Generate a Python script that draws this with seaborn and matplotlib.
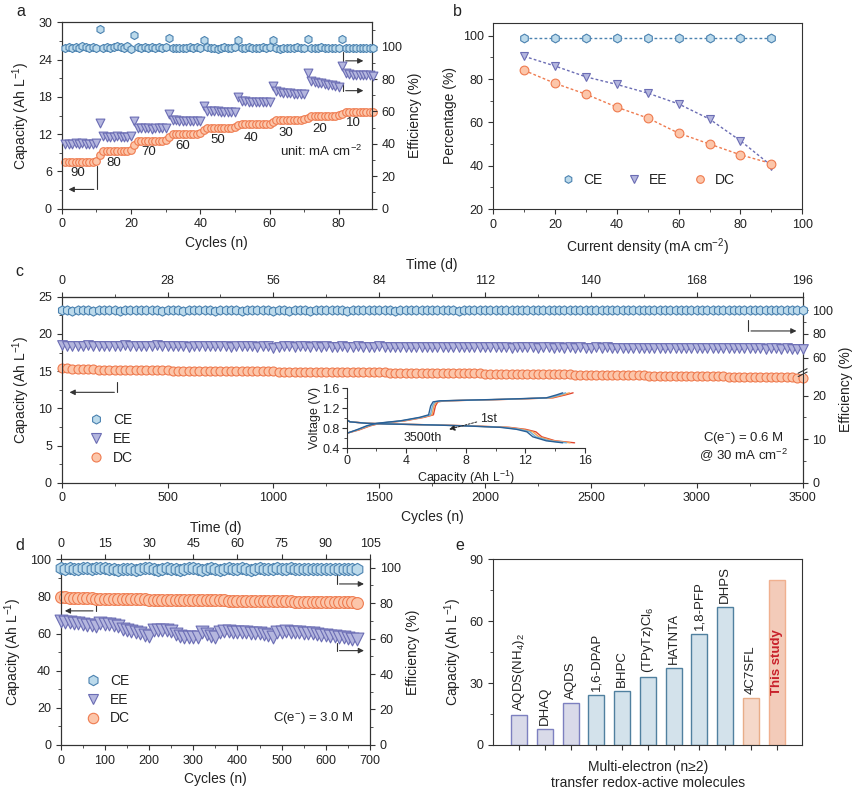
import numpy as np
import matplotlib
matplotlib.use("Agg")
import matplotlib.pyplot as plt
import seaborn as sns
from matplotlib.lines import Line2D
from matplotlib.ticker import MultipleLocator, FixedLocator

# ---------------- data ----------------
# a: rate test, 10 cycles per current density (90 -> 10 mA cm-2)
ce_a = [99.2, 99.6, 99.0, 99.8, 99.4, 100.2, 99.5, 99.1, 99.7, 99.3,
        111.0, 99.2, 99.6, 99.3, 99.5, 100.3, 99.7, 98.9, 100.1, 98.7,
        107.0, 99.5, 99.2, 99.9, 99.4, 99.6, 99.1, 99.5, 99.3, 99.5,
        105.4, 99.4, 99.3, 99.1, 98.9, 99.4, 99.6, 99.2, 99.5, 99.4,
        104.3, 99.5, 99.0, 99.3, 98.8, 99.4, 99.5, 99.0, 99.3, 99.5,
        104.3, 98.9, 99.4, 99.5, 99.1, 98.9, 99.3, 99.6, 99.4, 99.5,
        104.3, 99.2, 98.8, 99.4, 99.2, 98.9, 99.3, 99.5, 99.4, 99.4,
        105.0, 99.4, 99.4, 99.3, 99.5, 99.4, 99.4, 99.2, 99.4, 99.4,
        105.0, 99.4, 99.4, 99.4, 99.3, 99.4, 99.4, 99.4, 99.4, 99.4]
ee_a = [40.2, 40.0, 39.8, 40.3, 40.1, 40.4, 39.9, 40.2, 39.8, 40.6,
        53.0, 44.6, 44.4, 44.5, 44.3, 44.6, 44.4, 44.2, 44.5, 44.6,
        54.2, 49.6, 49.5, 49.7, 49.6, 49.4, 49.6, 49.5, 49.6, 49.5,
        58.4, 54.8, 54.5, 54.3, 54.2, 54.2, 54.0, 54.3, 54.1, 54.4,
        63.2, 60.5, 60.2, 60.0, 60.0, 59.8, 59.8, 59.7, 59.6, 59.6,
        69.0, 66.7, 66.3, 66.0, 66.0, 66.0, 65.9, 65.8, 65.8, 65.8,
        76.0, 72.5, 72.0, 71.6, 71.4, 71.2, 71.0, 71.0, 71.0, 71.0,
        83.6, 79.0, 78.3, 77.8, 77.4, 77.0, 76.6, 76.2, 75.8, 75.0,
        88.0, 83.5, 83.0, 82.7, 82.5, 82.5, 82.4, 82.3, 82.2, 82.0]
dc_a = [7.5, 7.5, 7.5, 7.5, 7.5, 7.5, 7.5, 7.5, 7.5, 7.6,
        8.6, 9.3, 9.3, 9.3, 9.3, 9.3, 9.3, 9.3, 9.3, 9.4,
        10.2, 10.9, 10.9, 10.9, 10.9, 10.9, 10.9, 10.9, 10.9, 11.0,
        11.6, 12.1, 12.1, 12.1, 12.1, 12.1, 12.1, 12.1, 12.1, 12.2,
        12.6, 13.0, 13.0, 13.0, 13.0, 13.0, 13.0, 13.0, 13.0, 13.1,
        13.4, 13.6, 13.6, 13.6, 13.6, 13.6, 13.6, 13.6, 13.6, 13.7,
        14.0, 14.3, 14.3, 14.3, 14.3, 14.3, 14.3, 14.3, 14.3, 14.4,
        14.6, 15.0, 15.0, 15.0, 15.0, 15.0, 15.0, 15.0, 15.0, 15.1,
        15.3, 15.6, 15.6, 15.6, 15.6, 15.6, 15.6, 15.6, 15.6, 15.6]
rate_labels = ["90", "80", "70", "60", "50", "40", "30", "20", "10"]
rate_label_x = [4.7, 14.9, 25.2, 34.9, 45.0, 54.8, 64.6, 74.4, 84.3]
rate_label_y = [5.75, 7.3, 9.2, 10.1, 11.1, 11.4, 12.2, 12.8, 13.8]

# b: efficiencies vs current density
current_b = [10, 20, 30, 40, 50, 60, 70, 80, 90]
ce_b = [99, 99, 99, 99, 99, 99, 99, 99, 99]
ee_b = [90.5, 86, 81, 77.5, 73.5, 68.5, 61.5, 51.5, 40]
dc_b = [84, 78, 73, 67, 62, 55, 50, 45, 41]

# c: long cycling, one marker every 25 cycles (0..3500)
ce_c = [99.8, 99.8, 99.7, 99.8, 99.8, 99.8, 99.7, 99.8, 99.8, 99.8,
        99.8, 99.7, 99.8, 99.8, 99.8, 99.8, 99.8, 99.8, 99.8, 99.3,
        99.8, 99.8, 99.8, 99.7, 99.8, 99.8, 99.8, 99.8, 99.8, 99.4,
        99.8, 99.8, 99.8, 99.8, 99.7, 99.8, 99.8, 99.8, 99.8, 99.8,
        99.2, 99.8, 99.8, 99.3, 99.8, 99.8, 99.8, 99.4, 99.8, 99.8,
        99.8, 99.8, 99.8, 99.8, 99.7, 99.8, 99.8, 99.8, 99.8, 99.8,
        99.8, 99.8, 99.8, 99.2, 99.8, 99.8, 99.8, 99.8, 99.8, 99.8,
        99.8, 99.8, 99.8, 99.8, 99.8, 99.7, 99.8, 99.8, 99.8, 99.8,
        99.8, 99.8, 99.8, 99.8, 99.8, 99.8, 99.8, 99.8, 99.8, 99.8,
        99.8, 99.8, 99.8, 99.8, 99.8, 99.8, 99.8, 99.8, 99.8, 99.8,
        99.8, 99.8, 99.8, 99.8, 99.8, 99.8, 99.8, 99.8, 99.8, 99.8,
        99.8, 99.8, 99.8, 99.8, 99.8, 99.8, 99.8, 99.8, 99.8, 99.8,
        99.8, 99.8, 99.8, 99.8, 99.8, 99.8, 99.8, 99.8, 99.8, 99.8,
        99.8, 99.8, 99.8, 99.8, 99.8, 99.8, 99.8, 99.8, 99.8, 99.8,
        99.8]
ee_c = [70.4, 70.0, 69.8, 70.1, 69.7, 70.3, 69.9, 69.6, 70.0, 69.8,
        70.2, 69.7, 70.3, 69.8, 69.6, 70.1, 69.7, 69.9, 70.4, 69.8,
        69.5, 70.0, 69.7, 69.9, 69.4, 69.8, 70.0, 69.6, 69.8, 69.5,
        69.9, 69.6, 69.4, 69.8, 69.5, 69.7, 69.9, 69.3, 69.6, 69.8,
        68.6, 69.4, 69.7, 69.5, 69.2, 69.6, 69.8, 69.3, 69.5, 69.4,
        69.7, 69.2, 69.4, 69.6, 69.1, 69.3, 69.5, 69.0, 69.4, 69.2,
        69.5, 69.1, 69.3, 69.0, 69.4, 69.2, 68.9, 69.3, 69.1, 69.4,
        69.0, 69.2, 68.9, 69.3, 69.0, 68.8, 69.2, 69.0, 68.9, 69.1,
        68.8, 69.0, 68.7, 69.1, 68.9, 68.6, 69.0, 68.8, 68.7, 68.9,
        68.6, 68.9, 68.7, 68.5, 68.8, 68.6, 68.9, 68.5, 68.7, 68.6,
        68.4, 68.7, 68.5, 68.8, 68.4, 68.6, 68.3, 68.6, 68.5, 68.3,
        68.6, 68.4, 68.2, 68.5, 68.3, 68.1, 68.4, 68.2, 68.5, 68.1,
        68.3, 68.0, 68.2, 68.4, 67.9, 68.1, 68.3, 67.9, 68.2, 68.0,
        67.8, 68.1, 67.9, 67.7, 68.0, 67.8, 67.6, 67.9, 67.7, 67.6,
        67.5]
dc_c = [15.45, 15.38, 15.33, 15.30, 15.27, 15.25, 15.23, 15.21, 15.20, 15.18,
        15.17, 15.16, 15.15, 15.14, 15.13, 15.12, 15.12, 15.11, 15.10, 15.10,
        15.09, 15.08, 15.08, 15.07, 15.06, 15.06, 15.05, 15.04, 15.04, 15.03,
        15.02, 15.02, 15.01, 15.00, 15.00, 14.99, 14.98, 14.98, 14.97, 14.96,
        14.96, 14.95, 14.94, 14.94, 14.93, 14.92, 14.92, 14.91, 14.90, 14.90,
        14.89, 14.88, 14.88, 14.87, 14.86, 14.86, 14.85, 14.84, 14.84, 14.83,
        14.82, 14.82, 14.81, 14.80, 14.80, 14.79, 14.78, 14.78, 14.77, 14.76,
        14.76, 14.75, 14.74, 14.74, 14.73, 14.72, 14.71, 14.70, 14.70, 14.69,
        14.68, 14.67, 14.66, 14.66, 14.65, 14.64, 14.63, 14.62, 14.62, 14.61,
        14.60, 14.59, 14.58, 14.57, 14.57, 14.56, 14.55, 14.54, 14.53, 14.52,
        14.51, 14.50, 14.50, 14.49, 14.48, 14.47, 14.46, 14.45, 14.44, 14.43,
        14.42, 14.41, 14.40, 14.40, 14.39, 14.38, 14.37, 14.36, 14.35, 14.34,
        14.33, 14.32, 14.31, 14.30, 14.29, 14.28, 14.27, 14.26, 14.25, 14.24,
        14.23, 14.22, 14.21, 14.20, 14.19, 14.18, 14.17, 14.16, 14.15, 14.14,
        14.12]

# c inset: charge / discharge curves, 1st -> 3500th
chg_v = [0.70, 0.77, 0.85, 0.90, 0.95, 1.02, 1.07, 1.25, 1.33, 1.35, 1.38, 1.41, 1.47, 1.51]
chg_q = [
    [0, 0.85, 1.58, 2.25, 3.9, 5.2, 5.82, 5.96, 6.12, 6.6, 10.75, 13.85, 14.7, 15.2],
    [0, 0.78, 1.50, 2.16, 3.8, 5.1, 5.72, 5.86, 6.02, 6.5, 10.6, 13.7, 14.5, 14.95],
    [0, 0.72, 1.42, 2.08, 3.7, 5.0, 5.62, 5.76, 5.92, 6.38, 10.45, 13.55, 14.3, 14.7],
    [0, 0.67, 1.34, 2.00, 3.6, 4.9, 5.50, 5.64, 5.80, 6.26, 10.3, 13.4, 14.1, 14.5],
]
dis_v = [0.97, 0.93, 0.90, 0.887, 0.867, 0.847, 0.82, 0.78, 0.73, 0.63, 0.55, 0.51]
dis_q = [
    [0, 0.22, 1.46, 2.90, 6.1, 8.50, 10.9, 12.0, 12.7, 13.1, 14.0, 15.3],
    [0, 0.22, 1.42, 2.84, 6.0, 8.35, 10.7, 11.8, 12.5, 12.9, 13.85, 15.0],
    [0, 0.22, 1.38, 2.77, 5.9, 8.20, 10.5, 11.6, 12.3, 12.7, 13.6, 14.75],
    [0, 0.22, 1.34, 2.70, 5.8, 8.05, 10.3, 11.4, 12.1, 12.5, 13.4, 14.5],
]
curve_colors = ["#e0452f", "#f2a157", "#6fb0d8", "#2a5f95"]

# d: high concentration cycling, one marker every 10 cycles (0..670)
ce_d = [99.5, 99.3, 99.6, 99.4, 99.2, 99.5, 99.6, 99.3, 99.5, 99.7,
        99.8, 99.4, 99.0, 98.6, 99.2, 99.4, 99.0, 98.7, 99.3, 99.5,
        99.7, 99.2, 98.8, 99.3, 99.6, 99.4, 99.0, 98.5, 99.1, 99.5,
        99.7, 99.4, 98.8, 99.2, 99.6, 99.3, 98.9, 99.4, 99.7, 99.3,
        99.0, 99.5, 99.3, 98.8, 99.2, 99.6, 99.3, 99.0, 99.4, 99.6,
        99.4, 99.2, 99.7, 99.4, 99.0, 99.3, 99.2, 99.1, 99.3, 99.2,
        99.0, 99.2, 99.3, 99.1, 99.0, 99.2, 99.1, 99.0]
ee_d = [69.7, 69.5, 69.3, 69.0, 68.7, 68.2, 67.9, 67.6, 67.3, 68.6,
        68.4, 68.1, 67.6, 66.8, 65.6, 65.0, 64.2, 63.6, 63.0, 62.2,
        61.7, 64.8, 65.0, 64.9, 64.6, 64.0, 62.5, 61.2, 60.7, 60.7,
        60.8, 60.7, 63.5, 62.8, 61.5, 60.8, 63.9, 64.0, 64.0, 63.8,
        63.6, 63.6, 63.5, 63.4, 63.2, 63.0, 62.5, 61.8, 60.8, 63.6,
        63.9, 64.0, 63.9, 63.8, 63.5, 63.3, 63.0, 62.9, 62.6, 62.2,
        61.9, 61.6, 61.2, 60.9, 60.6, 60.3, 60.0, 59.8]
dc_d = [79.8, 79.5, 79.3, 79.2, 79.1, 79.0, 78.9, 78.9, 78.8, 78.8,
        78.7, 78.7, 78.6, 78.6, 78.5, 78.5, 78.5, 78.4, 78.4, 78.4,
        78.3, 78.3, 78.3, 78.2, 78.2, 78.2, 78.1, 78.1, 78.1, 78.0,
        78.0, 78.0, 77.9, 77.9, 77.9, 77.8, 77.8, 77.8, 77.7, 77.7,
        77.7, 77.6, 77.6, 77.6, 77.5, 77.5, 77.5, 77.4, 77.4, 77.4,
        77.3, 77.3, 77.3, 77.2, 77.2, 77.2, 77.1, 77.1, 77.1, 77.0,
        77.0, 77.0, 76.9, 76.9, 76.9, 76.8, 76.8, 76.6]

# e: capacity of multi-electron molecules
molecules = ["AQDS(NH$_4$)$_2$", "DHAQ", "AQDS", "1,6-DPAP", "BHPC", "(TPyTz)Cl$_6$",
             "HATNTA", "1,8-PFP", "DHPS", "4C7SFL", "This study"]
capacity_e = [14.6, 7.7, 20.2, 24.0, 26.0, 33.1, 37.3, 53.7, 67.0, 22.8, 79.7]
bar_fill = ["#d6d8ec"] * 3 + ["#cfe3ef"] * 6 + ["#fcd6c2", "#fcc8b0"]
bar_edge = ["#7d80c0"] * 3 + ["#50809f"] * 6 + ["#e8ad88", "#f0b08f"]

# ---------------- style ----------------
sns.set_theme(style="ticks")
plt.rcParams["font.family"] = ["Liberation Sans", "DejaVu Sans"]
plt.rcParams.update({
    "mathtext.fontset": "custom", "mathtext.rm": "Liberation Sans",
    "mathtext.it": "Liberation Sans:italic", "mathtext.bf": "Liberation Sans:bold",
    "mathtext.default": "regular",
    "axes.linewidth": 0.8, "axes.edgecolor": "#333333",
    "xtick.color": "#333333", "ytick.color": "#333333",
    "xtick.labelcolor": "#222222", "ytick.labelcolor": "#222222",
    "xtick.major.size": 3.5, "ytick.major.size": 3.5,
    "xtick.minor.size": 2, "ytick.minor.size": 2,
    "xtick.major.width": 0.8, "ytick.major.width": 0.8,
    "xtick.minor.width": 0.6, "ytick.minor.width": 0.6,
    "xtick.direction": "out", "ytick.direction": "out",
    "xtick.labelsize": 9, "ytick.labelsize": 9,
    "axes.labelsize": 10, "axes.labelcolor": "#222222", "text.color": "#222222",
})

STYLE = {"CE": ("#bcdaeb", "#4b82b0", "h"),
         "EE": ("#b4b6de", "#6b6db4", "v"),
         "DC": ("#fcc6aa", "#ef7b4f", "o")}
CAP = "Capacity (Ah L$^{-1}$)"


def dots(ax, x, y, kind, s):
    fill, edge, mk = STYLE[kind]
    sns.scatterplot(x=x, y=y, marker=mk, s=s, color=fill, edgecolor=edge,
                    linewidth=0.8, ax=ax, legend=False, zorder=3, clip_on=False)


def handles(ms):
    return [Line2D([], [], ls="none", marker=STYLE[k][2], ms=ms, mfc=STYLE[k][0],
                   mec=STYLE[k][1], mew=0.8, label=k) for k in ["CE", "EE", "DC"]]


def elbow(ax, x, y0, y1, x_end):
    ax.plot([x, x], [y0, y1], color="#333333", lw=0.8)
    ax.annotate("", xy=(x_end, y1), xytext=(x, y1),
                arrowprops=dict(arrowstyle="-|>", color="#333333", lw=0.8, mutation_scale=8))


fig = plt.figure(figsize=(8.65, 7.89), dpi=100)

# ---------------- a ----------------
ax_a = fig.add_axes([0.0713, 0.7355, 0.3584, 0.2362])
ax_a2 = ax_a.twinx()
cyc_a = np.arange(1, len(dc_a) + 1)
dots(ax_a, cyc_a, dc_a, "DC", 30)
dots(ax_a2, cyc_a, ee_a, "EE", 40)
dots(ax_a2, cyc_a, ce_a, "CE", 34)
ax_a.set_xlim(0, 89.5)
ax_a.set_ylim(0, 30)
ax_a2.set_ylim(0, 115)
ax_a.xaxis.set_major_locator(MultipleLocator(20))
ax_a.xaxis.set_minor_locator(MultipleLocator(10))
ax_a.yaxis.set_major_locator(MultipleLocator(6))
ax_a.yaxis.set_minor_locator(MultipleLocator(3))
ax_a2.yaxis.set_major_locator(MultipleLocator(20))
ax_a2.yaxis.set_minor_locator(MultipleLocator(10))
ax_a.set_xlabel("Cycles (n)")
ax_a.set_ylabel(CAP)
ax_a2.set_ylabel("Efficiency (%)")
for t, x, y in zip(rate_labels, rate_label_x, rate_label_y):
    ax_a.text(x, y, t, ha="center", va="center", fontsize=9.5)
ax_a.text(86.9, 9.2, "unit: mA cm$^{-2}$", ha="right", va="center", fontsize=9.5)
elbow(ax_a, 10.1, 6.8, 3.1, 1.2)
elbow(ax_a, 81.2, 25.3, 23.8, 87.9)
elbow(ax_a, 81.2, 20.2, 19.0, 87.9)

# ---------------- b ----------------
ax_b = fig.add_axes([0.5703, 0.7351, 0.3572, 0.2361])
for kind, vals in [("CE", ce_b), ("EE", ee_b), ("DC", dc_b)]:
    fill, edge, mk = STYLE[kind]
    sns.lineplot(x=current_b, y=vals, ax=ax_b, color=edge, lw=1, linestyle=(0, (2, 1.6)),
                 marker=mk, markersize=6.3, markerfacecolor=fill, markeredgecolor=edge,
                 markeredgewidth=0.8)
ax_b.set_xlim(0, 100)
ax_b.set_ylim(20, 106)
ax_b.xaxis.set_major_locator(MultipleLocator(20))
ax_b.xaxis.set_minor_locator(MultipleLocator(10))
ax_b.yaxis.set_major_locator(MultipleLocator(20))
ax_b.yaxis.set_minor_locator(MultipleLocator(10))
ax_b.set_xlabel("Current density (mA cm$^{-2}$)")
ax_b.set_ylabel("Percentage (%)")
ax_b.legend(handles=handles(5.5), ncol=3, loc="center", bbox_to_anchor=(0.5, 0.156),
            frameon=False, handlelength=1.0, handletextpad=0.6, columnspacing=1.8, fontsize=10)

# ---------------- c ----------------
ax_c = fig.add_axes([0.0713, 0.3882, 0.8566, 0.2357])
ax_c2 = ax_c.twinx()
cyc_c = np.arange(0, 25 * len(dc_c), 25)
e_break = [0, 25, 50, 130]
s_break = [0, 25, 25.96, 25.96 + 80 * 0.273]
ax_c2.set_yscale("function", functions=(lambda e: np.interp(e, e_break, s_break),
                                        lambda s: np.interp(s, s_break, e_break)))
dots(ax_c, cyc_c, dc_c, "DC", 42)
dots(ax_c2, cyc_c, ee_c, "EE", 48)
dots(ax_c2, cyc_c, ce_c, "CE", 44)
ax_c.set_xlim(0, 3500)
ax_c.set_ylim(0, 25)
ax_c2.set_ylim(0, 111.3)
ax_c.xaxis.set_major_locator(MultipleLocator(500))
ax_c.xaxis.set_minor_locator(MultipleLocator(250))
ax_c.yaxis.set_major_locator(MultipleLocator(5))
ax_c.yaxis.set_minor_locator(MultipleLocator(2.5))
ax_c2.yaxis.set_major_locator(FixedLocator([0, 10, 20, 60, 80, 100]))
ax_c2.yaxis.set_minor_locator(FixedLocator([5, 15, 70, 90]))
ax_c2.set_yticklabels(["0", "10", "20", "60", "80", "100"])
ax_c.set_xlabel("Cycles (n)")
ax_c.set_ylabel(CAP)
ax_c2.set_ylabel("Efficiency (%)")
top_c = ax_c.secondary_xaxis("top", functions=(lambda n: n * 196 / 3500, lambda d: d * 3500 / 196))
top_c.xaxis.set_major_locator(FixedLocator(list(range(0, 197, 28))))
top_c.xaxis.set_minor_locator(FixedLocator(list(range(14, 197, 28))))
top_c.set_xlabel("Time (d)")
# axis break on the right spine
ax_c.plot([1, 1], [0.588, 0.606], transform=ax_c.transAxes, color="white", lw=2.5,
          clip_on=False, zorder=5)
for yb in (0.583, 0.601):
    ax_c.plot([0.994, 1.006], [yb - 0.012, yb + 0.012], transform=ax_c.transAxes,
              color="#333333", lw=0.8, clip_on=False, zorder=6)
ax_c.legend(handles=handles(6.5), loc="lower left", bbox_to_anchor=(0.03, 0.065),
            frameon=False, handlelength=1.0, handletextpad=0.7, labelspacing=0.35,
            fontsize=10, borderaxespad=0)
ax_c.text(0.92, 0.239, "C(e$^{-}$) = 0.6 M", transform=ax_c.transAxes, ha="center", va="center", fontsize=9.5)
ax_c.text(0.92, 0.149, "@ 30 mA cm$^{-2}$", transform=ax_c.transAxes, ha="center", va="center", fontsize=9.5)
elbow(ax_c, 262, 13.6, 12.15, 24)
elbow(ax_c, 3243, 21.9, 20.4, 3484)

# inset
ax_in = fig.add_axes([0.4008, 0.4318, 0.2755, 0.0760])
ax_in.patch.set_alpha(0)
for q_c, q_d, col in zip(chg_q, dis_q, curve_colors):
    sns.lineplot(x=q_c, y=chg_v, ax=ax_in, color=col, lw=1.0, sort=False)
    sns.lineplot(x=q_d, y=dis_v, ax=ax_in, color=col, lw=1.0, sort=False)
ax_in.set_xlim(0, 16)
ax_in.set_ylim(0.4, 1.6)
ax_in.xaxis.set_major_locator(MultipleLocator(4))
ax_in.xaxis.set_minor_locator(MultipleLocator(2))
ax_in.yaxis.set_major_locator(MultipleLocator(0.4))
ax_in.yaxis.set_minor_locator(MultipleLocator(0.2))
ax_in.tick_params(labelsize=9, pad=1.5)
ax_in.spines[["top", "right"]].set_visible(False)
ax_in.set_xlabel(CAP, fontsize=9, labelpad=1)
ax_in.set_ylabel("Voltage (V)", fontsize=9, labelpad=1)
ax_in.annotate("1st", xy=(6.7, 0.766), xytext=(8.95, 0.99), fontsize=9, va="center",
               arrowprops=dict(arrowstyle="-|>", ls=(0, (2, 1.5)), color="#222222",
                               lw=0.7, mutation_scale=8, shrinkA=0))
ax_in.text(5.08, 0.6, "3500th", ha="center", va="center", fontsize=9)

# ---------------- d ----------------
ax_d = fig.add_axes([0.0702, 0.0558, 0.3576, 0.2354])
ax_d2 = ax_d.twinx()
cyc_d = np.arange(0, 10 * len(dc_d), 10)
dots(ax_d, cyc_d, dc_d, "DC", 72)
dots(ax_d2, cyc_d, ee_d, "EE", 85)
dots(ax_d2, cyc_d, ce_d, "CE", 78)
ax_d.set_xlim(0, 700)
ax_d.set_ylim(0, 100)
ax_d2.set_ylim(0, 104.7)
ax_d.xaxis.set_major_locator(MultipleLocator(100))
ax_d.xaxis.set_minor_locator(MultipleLocator(50))
ax_d.yaxis.set_major_locator(MultipleLocator(20))
ax_d.yaxis.set_minor_locator(MultipleLocator(10))
ax_d2.yaxis.set_major_locator(MultipleLocator(20))
ax_d2.yaxis.set_minor_locator(MultipleLocator(10))
ax_d.set_xlabel("Cycles (n)")
ax_d.set_ylabel(CAP)
ax_d2.set_ylabel("Efficiency (%)")
top_d = ax_d.secondary_xaxis("top", functions=(lambda n: n * 0.15, lambda d: d / 0.15))
top_d.xaxis.set_major_locator(FixedLocator(list(range(0, 106, 15))))
top_d.set_xlabel("Time (d)")
ax_d.legend(handles=handles(7.5), loc="lower left", bbox_to_anchor=(0.065, 0.075),
            frameon=False, handlelength=1.0, handletextpad=0.7, labelspacing=0.35,
            fontsize=10, borderaxespad=0)
ax_d.text(0.817, 0.143, "C(e$^{-}$) = 3.0 M", transform=ax_d.transAxes, ha="center", va="center", fontsize=9.5)
elbow(ax_d, 624.6, 91.5, 86.7, 692.5)
elbow(ax_d, 79.2, 75.4, 72.2, 3)
elbow(ax_d, 624.6, 54.9, 50.8, 692.5)

# ---------------- e ----------------
ax_e = fig.add_axes([0.5703, 0.0558, 0.3572, 0.2354])
sns.barplot(x=molecules, y=capacity_e, hue=molecules, palette=bar_fill, legend=False,
            width=0.62, ax=ax_e, linewidth=1.0)
for patch, ec in zip(ax_e.patches, bar_edge):
    patch.set_edgecolor(ec)
for i, (name, v) in enumerate(zip(molecules, capacity_e)):
    if name == "This study":
        ax_e.text(i, 40, name, rotation=90, ha="center", va="center", fontsize=9.5,
                  color="#c8202a", fontweight="bold")
    else:
        ax_e.text(i, v + 2, name, rotation=90, ha="center", va="bottom", fontsize=9.5)
ax_e.set_xlim(-1, len(molecules))
ax_e.set_ylim(0, 90)
ax_e.yaxis.set_major_locator(MultipleLocator(30))
ax_e.yaxis.set_minor_locator(MultipleLocator(15))
ax_e.set_xticks(range(len(molecules)))
ax_e.set_xticklabels([])
ax_e.set_xlabel("Multi-electron (n≥2)\ntransfer redox-active molecules")
ax_e.set_ylabel(CAP)

# panel letters
for letter, x, y in [("a", 0.019, 0.985), ("b", 0.524, 0.985), ("c", 0.018, 0.656),
                     ("d", 0.018, 0.309), ("e", 0.527, 0.308)]:
    fig.text(x, y, letter, fontsize=11.5, ha="left", va="center")

fig.savefig("out.png", dpi=100)
